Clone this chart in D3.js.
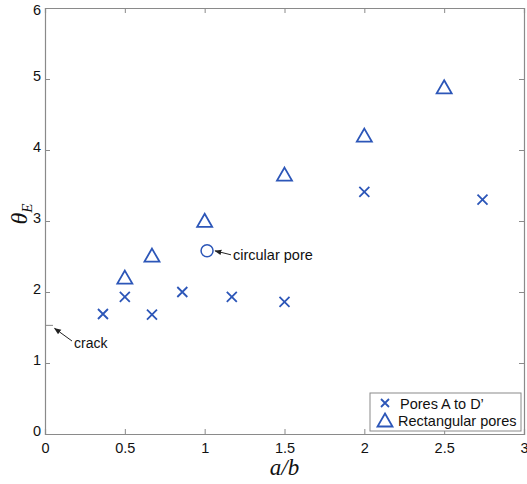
<!DOCTYPE html>
<html><head><meta charset="utf-8">
<script src="https://cdn.jsdelivr.net/npm/d3@7"></script>
<style>body{margin:0;background:#fff}svg{display:block}.sans{font-family:"Liberation Sans",Arial,sans-serif}.serif{font-family:"Liberation Serif","DejaVu Serif",serif;font-style:italic}</style>
</head><body><svg id="c" width="527" height="484"></svg>
<script>
const crossX = [0.363, 0.50, 0.67, 0.86, 1.17, 1.50, 2.00, 2.74];
const crossY = [1.69, 1.93, 1.68, 2.00, 1.93, 1.86, 3.41, 3.30];
const triX = [0.50, 0.67, 1.00, 1.50, 2.00, 2.50];
const triY = [2.21, 2.52, 3.01, 3.66, 4.21, 4.89];
const circleX = [1.015];
const circleY = [2.58];
const crackY = 1.53;
const xTicks = [0, 0.5, 1, 1.5, 2, 2.5, 3];
const yTicks = [0, 1, 2, 3, 4, 5, 6];
const legendLabels = ["Pores A to D\u2019", "Rectangular pores"];

const svg = d3.select("#c");
const L = 45, R = 524, T = 8, B = 434;
const x = d3.scaleLinear().domain([0, 3]).range([L, R]);
const y = d3.scaleLinear().domain([0, 6]).range([B, T]);
const axisCol = "#8a8a8a", blue = "#2c56b8";

const gx = svg.append("g").attr("transform", `translate(0,${B})`)
  .call(d3.axisBottom(x).tickValues(xTicks).tickFormat(d => d).tickSize(-5).tickPadding(9));
const gxTop = svg.append("g").attr("transform", `translate(0,${T})`)
  .call(d3.axisTop(x).tickValues(xTicks).tickFormat("").tickSize(-5));
const gy = svg.append("g").attr("transform", `translate(${L},0)`)
  .call(d3.axisLeft(y).tickValues(yTicks).tickFormat(d => d).tickSize(-5).tickPadding(4));
const gyR = svg.append("g").attr("transform", `translate(${R},0)`)
  .call(d3.axisRight(y).tickValues(yTicks).tickFormat("").tickSize(-5));
[gx, gxTop, gy, gyR].forEach(g => {
  g.attr("font-family", null).attr("font-size", null);
  g.select(".domain").attr("stroke", axisCol).attr("stroke-width", 1.2);
  g.selectAll(".tick line").attr("stroke", axisCol);
  g.selectAll(".tick text").attr("class", "sans").attr("fill", "#111").style("font-size", "14.5px");
});
gx.selectAll(".tick text").attr("dy", "0.71em");
gy.selectAll(".tick text").attr("dy", d => d === 6 ? "0.45em" : "0.1em");

svg.append("line").attr("x1", x(0)).attr("x2", x(0.05)).attr("y1", y(crackY)).attr("y2", y(crackY))
  .attr("stroke", "#888").attr("stroke-width", 1);

svg.append("defs").append("marker").attr("id", "ah").attr("viewBox", "0 0 10 10")
  .attr("refX", 9).attr("refY", 5).attr("markerWidth", 7).attr("markerHeight", 7).attr("orient", "auto")
  .append("path").attr("d", "M0,1 L10,5 L0,9 Z").attr("fill", "#222");

svg.append("line").attr("x1", 72).attr("y1", 341).attr("x2", x(0.06)).attr("y2", y(crackY) + 3)
  .attr("stroke", "#222").attr("stroke-width", 1).attr("marker-end", "url(#ah)");
svg.append("text").attr("class", "sans").attr("x", 74).attr("y", 348).style("font-size", "14px").attr("fill", "#111").text("crack");

const cs = 5;
svg.append("g").selectAll("path").data(crossX.map((d, i) => [d, crossY[i]])).join("path")
  .attr("d", d => `M${x(d[0]) - cs},${y(d[1]) - cs}L${x(d[0]) + cs},${y(d[1]) + cs}M${x(d[0]) - cs},${y(d[1]) + cs}L${x(d[0]) + cs},${y(d[1]) - cs}`)
  .attr("stroke", blue).attr("stroke-width", 1.8).attr("fill", "none");

const tw = 7.5, th = 6.5;
function triPath(cx, cy) { return `M${cx},${cy - th}L${cx + tw},${cy + th}L${cx - tw},${cy + th}Z`; }
svg.append("g").selectAll("path").data(triX.map((d, i) => [d, triY[i]])).join("path")
  .attr("d", d => triPath(x(d[0]), y(d[1])))
  .attr("stroke", blue).attr("stroke-width", 1.8).attr("fill", "none");

svg.append("g").selectAll("circle").data(circleX.map((d, i) => [d, circleY[i]])).join("circle")
  .attr("cx", d => x(d[0])).attr("cy", d => y(d[1])).attr("r", 6)
  .attr("stroke", blue).attr("stroke-width", 1.5).attr("fill", "none");

svg.append("line").attr("x1", 231).attr("y1", y(circleY[0]) + 4).attr("x2", x(circleX[0]) + 8).attr("y2", y(circleY[0]))
  .attr("stroke", "#222").attr("stroke-width", 1).attr("marker-end", "url(#ah)");
svg.append("text").attr("class", "sans").attr("x", 233).attr("y", y(circleY[0]) + 9).style("font-size", "14.5px").attr("fill", "#111").text("circular pore");

const lg = svg.append("g");
lg.append("rect").attr("x", 370).attr("y", 393).attr("width", 151).attr("height", 38)
  .attr("fill", "#fff").attr("stroke", axisCol).attr("stroke-width", 1);
const lx = 385, ly1 = 403, ly2 = 420, s2 = 4;
lg.append("path").attr("d", `M${lx - s2},${ly1 - s2}L${lx + s2},${ly1 + s2}M${lx - s2},${ly1 + s2}L${lx + s2},${ly1 - s2}`)
  .attr("stroke", blue).attr("stroke-width", 1.8);
lg.append("path").attr("d", triPath(lx, ly2)).attr("stroke", blue).attr("stroke-width", 1.8).attr("fill", "none");
lg.append("text").attr("class", "sans").attr("x", 400).attr("y", 409).style("font-size", "14.5px").attr("fill", "#111").text(legendLabels[0]);
lg.append("text").attr("class", "sans").attr("x", 398).attr("y", 426).style("font-size", "14.5px").attr("fill", "#111").text(legendLabels[1]);

svg.append("text").attr("class", "serif").attr("x", (L + R) / 2).attr("y", 475).attr("text-anchor", "middle")
  .style("font-size", "23px").attr("fill", "#111").text("a/b");
const yl = svg.append("text").attr("class", "serif").attr("transform", "translate(27,214) rotate(-90)").attr("text-anchor", "middle").attr("fill", "#111");
yl.append("tspan").style("font-size", "24px").text("\u03b8");
yl.append("tspan").style("font-size", "15px").attr("dy", 5).text("E");
</script></body></html>
